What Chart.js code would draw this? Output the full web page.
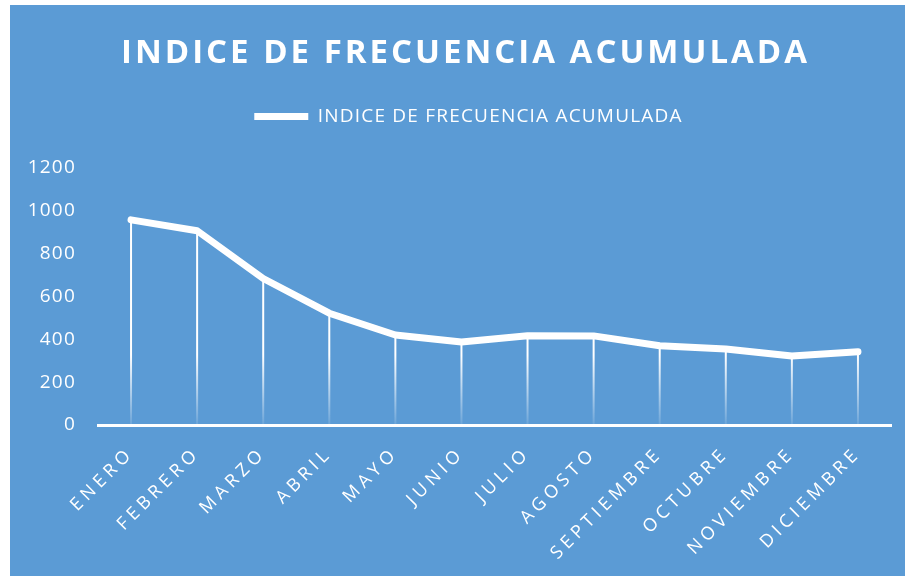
<!DOCTYPE html>
<html>
<head>
<meta charset="utf-8">
<script src="https://cdn.jsdelivr.net/npm/chart.js@4/dist/chart.umd.min.js"></script>
<style>
  body { margin: 0; background: #ffffff; }
  #caja { position: absolute; left: 10px; top: 5px; width: 895px; height: 571px; background: #5b9bd5; }
</style>
</head>
<body>
<div id="caja"><canvas id="grafico" width="895" height="571"></canvas></div>
<script>
var titulo = 'INDICE DE FRECUENCIA ACUMULADA'
var serie = 'INDICE DE FRECUENCIA ACUMULADA'
var meses = ['ENERO', 'FEBRERO', 'MARZO', 'ABRIL', 'MAYO', 'JUNIO', 'JULIO', 'AGOSTO', 'SEPTIEMBRE', 'OCTUBRE', 'NOVIEMBRE', 'DICIEMBRE']
var valores = [958, 907, 684, 522, 420, 388, 417, 416, 370, 355, 322, 342]
var ejeY = [0, 200, 400, 600, 800, 1000, 1200]

// lineas verticales desde cada punto hasta el eje
var lineasCaida = {
    id: 'lineasCaida',
    beforeDatasetsDraw: function (chart) {
        var ctx = chart.ctx
        var meta = chart.getDatasetMeta(0)
        var base = chart.scales.y.getPixelForValue(0)
        var grad = ctx.createLinearGradient(0, base - 70, 0, base)
        grad.addColorStop(0, 'rgba(255,255,255,1)')
        grad.addColorStop(1, 'rgba(255,255,255,0.1)')
        ctx.save()
        ctx.strokeStyle = grad
        ctx.lineWidth = 2
        meta.data.forEach(function (p) {
            ctx.beginPath()
            ctx.moveTo(p.x, p.y)
            ctx.lineTo(p.x, base)
            ctx.stroke()
        })
        ctx.restore()
    }
}

// espacio extra debajo de la leyenda
var espacioLeyenda = {
    id: 'espacioLeyenda',
    beforeUpdate: function (chart) {
        var l = chart.legend
        if (l && !l._conEspacio) {
            var ajustar = l.fit
            l.fit = function () {
                ajustar.call(l)
                l.height += 32
            }
            l._conEspacio = true
        }
    }
}

// espaciado de letras y titulo
var espaciado = {
    id: 'espaciado',
    beforeDraw: function (chart) {
        var ctx = chart.ctx
        var sx = chart.scales.x
        if (!sx._conEspacio) {
            var dibujar = sx.drawLabels
            sx.drawLabels = function (area) {
                ctx.save()
                ctx.letterSpacing = '4.5px'
                dibujar.call(sx, area)
                ctx.restore()
            }
            sx._conEspacio = true
        }
        ctx.letterSpacing = '1.2px'
    },
    afterDraw: function (chart) {
        var ctx = chart.ctx
        ctx.save()
        ctx.letterSpacing = '3px'
        ctx.fillStyle = '#ffffff'
        ctx.font = 'bold 33px "Open Sans"'
        ctx.textAlign = 'center'
        ctx.textBaseline = 'alphabetic'
        ctx.fillText(titulo, 455.5, 58)
        ctx.restore()
        ctx.letterSpacing = '0px'
    }
}

var ctxG = document.getElementById('grafico').getContext('2d')
var miGrafico = new Chart(ctxG, {
    type: 'line',
    data: {
        labels: meses,
        datasets: [{
            label: serie,
            data: valores,
            borderColor: '#ffffff',
            backgroundColor: '#ffffff',
            borderWidth: 7,
            borderCapStyle: 'round',
            borderJoinStyle: 'round',
            pointRadius: 0,
            tension: 0
        }]
    },
    options: {
        responsive: false,
        animation: false,
        layout: { padding: { left: 0, right: 14, top: 59, bottom: 0 } },
        plugins: {
            title: { display: false },
            legend: {
                display: true,
                labels: {
                    color: '#ffffff',
                    font: { family: 'Open Sans', size: 19 },
                    usePointStyle: true,
                    pointStyle: 'line',
                    pointStyleWidth: 54,
                    padding: 43
                }
            },
            tooltip: { enabled: false }
        },
        scales: {
            x: {
                offset: true,
                grid: { display: false },
                border: { display: true, color: '#ffffff', width: 3 },
                ticks: {
                    color: '#ffffff',
                    font: { family: 'Open Sans', size: 18 },
                    minRotation: 45,
                    maxRotation: 45,
                    autoSkip: false,
                    padding: 10
                },
                afterFit: function (s) { s.height = 151 }
            },
            y: {
                min: 0,
                max: 1200,
                grid: { display: false, drawTicks: false },
                border: { display: false },
                afterBuildTicks: function (s) { s.ticks = ejeY.map(function (v) { return { value: v } }) },
                ticks: {
                    color: '#ffffff',
                    font: { family: 'Open Sans', size: 19 },
                    padding: 22,
                    callback: function (v) { return String(v) }
                },
                afterFit: function (s) { s.width = 88 }
            }
        }
    },
    plugins: [lineasCaida, espacioLeyenda, espaciado]
})
</script>
</body>
</html>
